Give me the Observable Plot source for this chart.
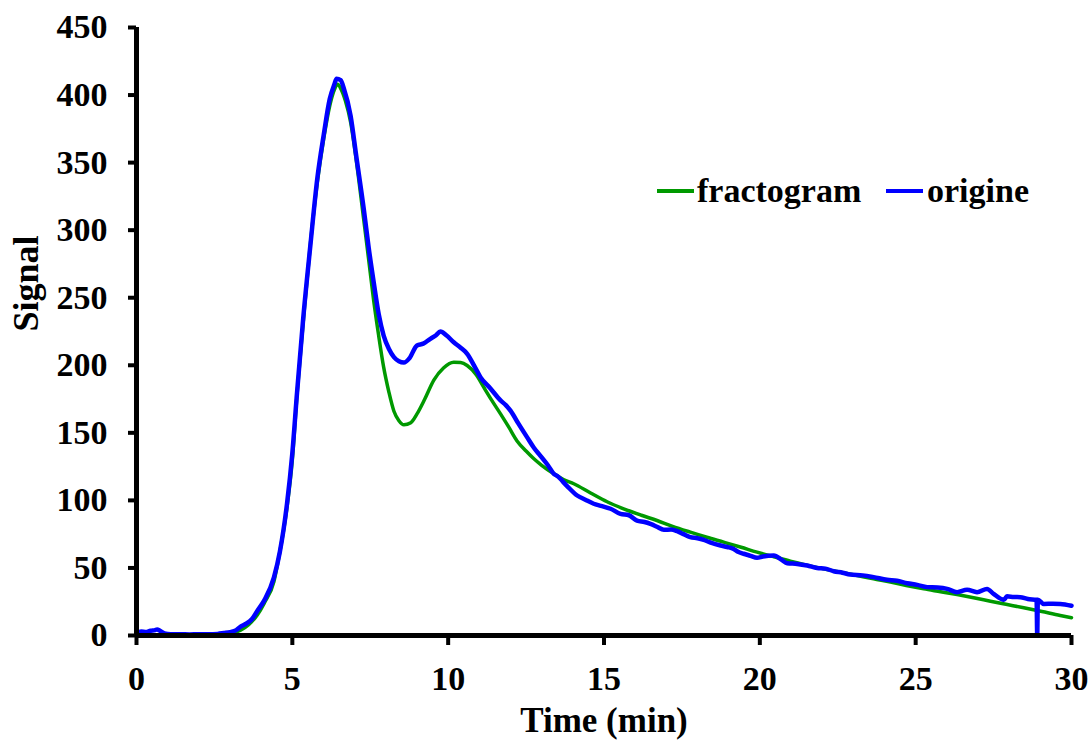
<!DOCTYPE html>
<html>
<head>
<meta charset="utf-8">
<script src="https://cdn.jsdelivr.net/npm/d3@7"></script>
<script src="https://cdn.jsdelivr.net/npm/@observablehq/plot@0.6"></script>
<style>
  body { margin: 0; background: white; }
  #wrap { position: relative; width: 1090px; height: 740px; overflow: hidden; }
  .leg { position: absolute; font: bold 34px "Liberation Serif", serif; line-height: 1; color: black; white-space: nowrap; }
  .sw { position: absolute; height: 4px; }
</style>
</head>
<body>
<div id="wrap"></div>
<script>
// fractogram (green)
const fracTime = [0, 1, 2, 2.5, 2.8, 3.1, 3.34, 3.6, 3.87, 4.1, 4.41, 4.6, 4.83, 5.0, 5.15, 5.35, 5.58, 5.8, 6.01, 6.2, 6.35, 6.45, 6.55, 6.7, 6.87, 7.05, 7.29, 7.45, 7.61, 7.77, 7.93, 8.1, 8.26, 8.42, 8.58, 8.8, 9.0, 9.25, 9.54, 9.85, 10.18, 10.4, 10.61, 10.9, 11.14, 11.4, 11.68, 11.95, 12.21, 12.5, 12.75, 13.0, 13.39, 13.7, 14.03, 14.57, 15.1, 15.63, 16.2, 16.7, 17.2, 17.77, 18.3, 18.84, 19.4, 19.91, 20.45, 20.98, 21.5, 22.05, 22.6, 23.12, 23.65, 24.19, 24.7, 25.26, 25.8, 26.33, 26.9, 27.4, 27.9, 28.47, 29.05, 29.64, 30];
const fracSignal = [0, 0, 0, 0.3, 1, 2, 4, 8, 15, 24, 40, 62, 95, 130, 178, 232, 290, 335, 368, 392, 404, 408, 405, 396, 380, 352, 308, 278, 248, 222, 198.6, 180, 166, 159, 156, 157.5, 164, 175, 189, 198, 202.3, 202, 199.8, 193, 183.8, 174, 164, 154, 144, 136.5, 130.8, 126, 119.7, 115.5, 112.3, 105.5, 99, 93.8, 89, 85.1, 80.8, 76.5, 72.7, 69.1, 65.3, 61.7, 58.3, 55, 52.1, 49.3, 46.8, 44.4, 41.9, 39.5, 37, 34.5, 32.4, 30.3, 27.8, 25.4, 23.1, 20.5, 17.7, 14.8, 13.2];

// origine (blue)
const origTime = [0, 0.15, 0.3, 0.45, 0.6, 0.66, 0.75, 0.9, 1.1, 1.4, 1.7, 2.0, 2.3, 2.6, 2.8, 3.0, 3.2, 3.34, 3.5, 3.7, 3.87, 4.1, 4.41, 4.6, 4.83, 5.0, 5.15, 5.35, 5.58, 5.8, 6.01, 6.2, 6.35, 6.42, 6.55, 6.65, 6.87, 7.05, 7.29, 7.45, 7.61, 7.77, 7.93, 8.1, 8.26, 8.42, 8.58, 8.75, 9.0, 9.2, 9.43, 9.6, 9.75, 9.95, 10.18, 10.4, 10.61, 10.85, 11.04, 11.35, 11.68, 11.85, 12.0, 12.25, 12.53, 12.75, 12.96, 13.2, 13.39, 13.5, 13.8, 14.14, 14.4, 14.67, 14.9, 15.21, 15.53, 15.8, 16.06, 16.3, 16.49, 16.7, 16.92, 17.15, 17.35, 17.55, 17.77, 18.0, 18.2, 18.45, 18.74, 18.95, 19.16, 19.3, 19.48, 19.7, 19.91, 20.1, 20.45, 20.7, 20.88, 21.2, 21.52, 21.84, 22.1, 22.37, 22.65, 22.9, 23.3, 23.65, 24.08, 24.4, 24.73, 25.05, 25.37, 25.7, 26.01, 26.33, 26.65, 26.97, 27.29, 27.5, 27.83, 27.93, 28.15, 28.36, 28.6, 28.88, 28.9, 28.92, 29.11, 29.4, 29.64, 30];
const origSignal = [2, 3, 2.5, 3.5, 4, 4.5, 3.5, 1.5, 1, 1, 0.8, 1, 1, 1.2, 1.8, 2.5, 4, 6.5, 8.5, 12, 18, 26, 43, 62, 97.7, 135, 179.5, 235, 289, 338, 371, 397, 408, 412, 411, 405, 384.6, 355, 316, 287, 261.6, 238, 222, 212, 206, 203, 202, 205, 214.7, 216, 219.6, 222, 225, 222, 217, 213, 208.5, 199, 191, 183, 174, 170.5, 166.5, 157, 146.8, 139, 133, 126, 119.7, 118, 111, 103.6, 100.5, 97.5, 96, 93.8, 90, 89, 85, 84, 82.6, 80.5, 78.2, 78.5, 77.2, 75, 72.8, 72, 70.8, 68.5, 66.6, 65.5, 64.1, 62, 60.5, 59, 57.5, 58.5, 59.2, 56, 53.5, 53, 51.8, 50, 49.5, 47.6, 46.5, 45.1, 44.5, 43.2, 41.2, 40.5, 38.7, 37.5, 35.8, 35.5, 34.5, 32.1, 33.8, 32.1, 34.5, 30.8, 26.4, 29, 28.5, 28.4, 27, 26.4, 0, 26.4, 23.4, 23.5, 23.4, 22];

const xTicks = [0, 5, 10, 15, 20, 25, 30];
const yTicks = [0, 50, 100, 150, 200, 250, 300, 350, 400, 450];
const seriesNames = ["fractogram", "origine"];
const seriesColors = ["#009900", "#0000ff"];
const xTitle = "Time (min)";
const yTitle = "Signal";

const frac = fracTime.map((t, i) => ({t, v: fracSignal[i]}));
const orig = origTime.map((t, i) => ({t, v: origSignal[i]}));

const chart = Plot.plot({
  width: 1090,
  height: 740,
  marginLeft: 136,
  marginRight: 19,
  marginTop: 27,
  marginBottom: 105,
  style: {fontFamily: "'Liberation Serif', serif", fontSize: "34px", fontWeight: "bold", color: "black", background: "white", overflow: "hidden"},
  x: {domain: [0, 30]},
  y: {domain: [0, 450]},
  marks: [
    Plot.line(frac, {x: "t", y: "v", stroke: seriesColors[0], strokeWidth: 3.5, curve: "monotone-x"}),
    Plot.line(orig, {x: "t", y: "v", stroke: seriesColors[1], strokeWidth: 4.5, curve: "monotone-x"}),
    Plot.ruleX([0], {strokeWidth: 5, stroke: "black"}),
    Plot.ruleY([0], {strokeWidth: 5, stroke: "black"}),
    Plot.axisX(xTicks, {tickSize: 10, tickPadding: 20, strokeWidth: 4, label: null, fontSize: 34}),
    Plot.axisY(yTicks, {tickSize: 8, tickPadding: 21, strokeWidth: 4, label: null, fontSize: 34}),
    Plot.text([xTitle], {text: d => d, frameAnchor: "bottom", dy: 96, fontSize: 35}),
    Plot.text([yTitle], {text: d => d, frameAnchor: "left", dx: -110, rotate: -90, fontSize: 36})
  ]
});

const wrap = document.getElementById("wrap");
wrap.appendChild(chart);

// legend
const legendItems = [
  {name: seriesNames[0], color: seriesColors[0], lineLeft: 657, textLeft: 697},
  {name: seriesNames[1], color: seriesColors[1], lineLeft: 886, textLeft: 927}
];
for (const it of legendItems) {
  const sw = document.createElement("div");
  sw.className = "sw";
  sw.style.left = it.lineLeft + "px";
  sw.style.top = "189px";
  sw.style.width = "37px";
  sw.style.background = it.color;
  wrap.appendChild(sw);
  const tx = document.createElement("div");
  tx.className = "leg";
  tx.style.left = it.textLeft + "px";
  tx.style.top = "174px";
  tx.textContent = it.name;
  wrap.appendChild(tx);
}
</script>
</body>
</html>
